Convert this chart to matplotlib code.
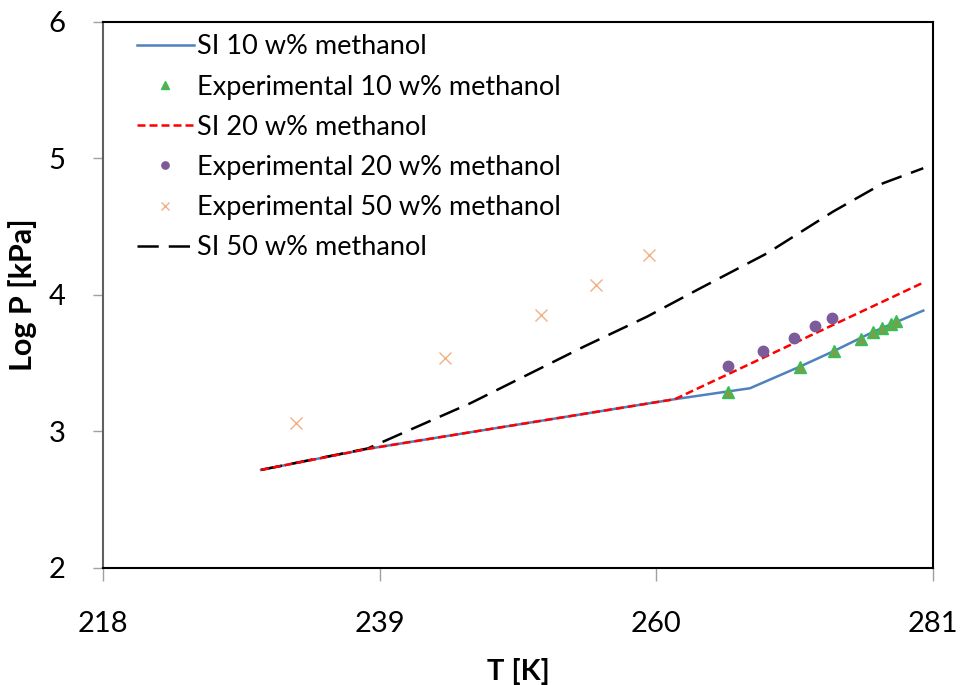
import matplotlib
matplotlib.use("Agg")
import matplotlib.pyplot as plt

plt.rcParams['font.family'] = ['Lato', 'DejaVu Sans']

# SI model curves (T in K, log P in kPa)
si10_T = [230.0, 238.1, 261.4, 267.1, 270.9, 273.5, 276.4, 280.25]
si10_P = [2.718, 2.872, 3.236, 3.316, 3.475, 3.59, 3.727, 3.885]

si20_T = [230.0, 238.1, 261.4, 280.25]
si20_P = [2.718, 2.872, 3.236, 4.09]

si50_T = [230.0, 238.1, 245.9, 254.5, 259.3, 263.1, 268.4, 273.4, 277.2, 280.25]
si50_P = [2.718, 2.875, 3.207, 3.621, 3.841, 4.037, 4.305, 4.61, 4.818, 4.928]

# Experimental data
exp10_T = [265.4, 270.9, 273.5, 275.5, 276.4, 277.1, 277.8, 278.2]
exp10_P = [3.29, 3.475, 3.59, 3.678, 3.727, 3.756, 3.788, 3.81]

exp20_T = [265.4, 268.1, 270.45, 272.0, 273.3]
exp20_P = [3.48, 3.59, 3.685, 3.77, 3.83]

exp50_T = [232.65, 243.95, 251.25, 255.4, 259.45]
exp50_P = [3.06, 3.54, 3.85, 4.07, 4.29]

x_ticks = [218, 239, 260, 281]
y_ticks = [2, 3, 4, 5, 6]

fig = plt.figure(figsize=(9.62, 6.85), dpi=100)
ax = fig.add_axes([0.107, 0.171, 0.863, 0.797])

ax.plot(si10_T, si10_P, color='#4F81BD', lw=1.8, label='SI 10 w% methanol', zorder=3)
ax.plot(exp10_T, exp10_P, linestyle='none', marker='^', ms=9,
        mfc='#77A04A', mec='#2DC35A', mew=1.0, label='Experimental 10 w% methanol', zorder=5)
ax.plot(si20_T, si20_P, color='#FF0000', lw=1.8, dashes=(3.2, 1.6),
        label='SI 20 w% methanol', zorder=4)
ax.plot(exp20_T, exp20_P, linestyle='none', marker='o', ms=7.5,
        mfc='#7B5B99', mec='#7B5B99', label='Experimental 20 w% methanol', zorder=5)
ax.plot(exp50_T, exp50_P, linestyle='none', marker='x', ms=9, mew=1.0,
        color='#F2B184', label='Experimental 50 w% methanol', zorder=5)
ax.plot(si50_T, si50_P, color='#000000', lw=1.8, dashes=(8.5, 4.0),
        label='SI 50 w% methanol', zorder=3)

ax.set_xlim(218, 281)
ax.set_ylim(2, 6)
ax.set_xticks(x_ticks)
ax.set_yticks(y_ticks)
ax.tick_params(axis='x', direction='out', length=9, width=1, color='#A0A0A0',
               pad=22, labelsize=21)
ax.tick_params(axis='y', direction='out', length=7, width=1, color='#A0A0A0',
               pad=20, labelsize=21)

for side in ['top', 'right', 'bottom']:
    ax.spines[side].set_color('#000000')
    ax.spines[side].set_linewidth(1.5)
ax.spines['left'].set_color('#606060')
ax.spines['left'].set_linewidth(1.5)

ax.set_xlabel('T [K]', fontsize=21, fontweight='bold')
ax.set_ylabel('Log P [kPa]', fontsize=22, fontweight='bold')
ax.xaxis.set_label_coords(0.5, -0.165)
ax.yaxis.set_label_coords(-0.079, 0.5)

leg = ax.legend(loc='upper left', bbox_to_anchor=(0.028, 0.997), frameon=False,
                fontsize=19.5, handlelength=2.1, handletextpad=0.1,
                labelspacing=0.56, borderaxespad=0.0, markerscale=0.7)

fig.savefig('out.png', dpi=100)
